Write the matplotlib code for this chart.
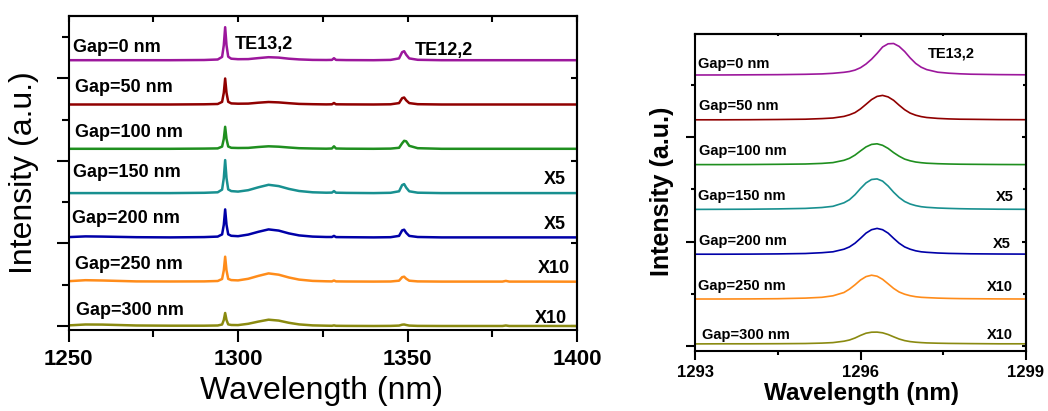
import numpy as np
import matplotlib
matplotlib.use("Agg")
import matplotlib.pyplot as plt

plt.rcParams['font.family'] = ['Liberation Sans', 'DejaVu Sans']

# ---- data ----
gaps = ['Gap=0 nm', 'Gap=50 nm', 'Gap=100 nm', 'Gap=150 nm', 'Gap=200 nm', 'Gap=250 nm', 'Gap=300 nm']
colors = ['#9C179C', '#900000', '#1F8F1F', '#189090', '#0000A8', '#FF8C1A', '#8A8A10']
scales = ['', '', '', 'X5', 'X5', 'X10', 'X10']

# left panel: broad spectrum (a.u.)
wl_full = [1250, 1255, 1260, 1270, 1280, 1290, 1294, 1295.3, 1295.8, 1296.2, 1296.6, 1297.1,
           1298, 1300, 1303, 1306, 1309, 1312, 1315, 1318, 1322, 1326, 1327.7, 1328.3,
           1328.9, 1332, 1340, 1345, 1347.5, 1348.4, 1349.0, 1349.6, 1350.5, 1353, 1360,
           1370, 1378, 1379, 1380, 1390, 1400]
full_gap0 = [0, 0, 0, 0, 0, 0.2, 0.7, 3.3, 15, 33, 15, 3.5, 1.5, 1.0, 1.1, 2.1, 3.0, 2.6, 1.5,
             0.8, 0.3, 0.2, 0.3, 2.0, 0.3, 0.1, 0, 0.3, 1.8, 8, 9, 5.5, 1.8, 0.4, 0, 0, 0, 0, 0, 0, 0]
full_gap50 = [0, 0, 0, 0, 0, 0.2, 0.5, 2.6, 11.7, 26, 11.7, 2.7, 1.1, 0.8, 0.9, 1.8, 2.5, 2.1,
              1.3, 0.6, 0.3, 0.1, 0.2, 1.5, 0.2, 0.1, 0, 0.2, 1.4, 6.3, 7, 4.2, 1.4, 0.3, 0, 0,
              0, 0, 0, 0, 0]
full_gap100 = [0, 0, 0, 0, 0, 0.2, 0.4, 2.2, 9.9, 22, 9.9, 2.3, 1.0, 0.8, 0.9, 1.8, 2.5, 2.1,
               1.3, 0.6, 0.3, 0.1, 0.3, 2.5, 0.3, 0.1, 0, 0.2, 1.0, 5.5, 8, 7.5, 3, 0.6, 0, 0,
               0, 0, 0, 0, 0]
full_gap150 = [0, 0, 0, 0, 0, 0.3, 0.8, 3.5, 15, 33, 15, 3.7, 2.0, 1.5, 2.9, 5.8, 8.3, 7.0,
               4.2, 2.1, 0.8, 0.4, 0.5, 2.0, 0.4, 0.2, 0, 0.3, 1.8, 8, 9, 5.5, 1.8, 0.4, 0, 0,
               0, 0, 0, 0, 0]
full_gap200 = [0.3, 1.0, 0.8, 0.2, 0, 0.3, 0.8, 3.0, 12.6, 28, 12.6, 3.1, 1.6, 1.2, 2.8, 5.6,
               8, 6.8, 4, 2, 0.8, 0.4, 0.4, 1.5, 0.3, 0.2, 0, 0.2, 1.5, 7, 7.7, 4.6, 1.5, 0.4,
               0, 0, 0, 0, 0, 0, 0]
full_gap250 = [0.5, 1.5, 1.2, 0.3, 0.2, 0.3, 0.7, 2.7, 11.3, 25, 11.3, 2.8, 1.6, 1.3, 2.9, 5.8,
               8.3, 7.0, 4.2, 2.1, 0.8, 0.4, 0.3, 1.2, 0.3, 0.2, 0.1, 0.2, 1.0, 4.5, 5, 3, 1.0,
               0.3, 0.1, 0.1, 0.1, 0.8, 0.1, 0.1, 0]
full_gap300 = [0.6, 1.5, 1.4, 0.5, 0.3, 0.3, 0.5, 1.5, 6, 13, 6, 1.6, 1.0, 0.9, 2.2, 4.4, 6.3,
               5.4, 3.2, 1.6, 0.6, 0.3, 0.2, 0.6, 0.2, 0.1, 0, 0.1, 0.4, 1.3, 1.5, 1.0, 0.4,
               0.1, 0, 0, 0, 0.5, 0, 0, 0]

# right panel: zoom on TE13,2 (a.u.)
wl_zoom = [1293.0, 1293.5, 1294.0, 1294.5, 1295.0, 1295.3, 1295.5, 1295.7, 1295.8, 1295.9,
           1296.0, 1296.1, 1296.2, 1296.3, 1296.4, 1296.5, 1296.6, 1296.7, 1296.8, 1296.9,
           1297.0, 1297.1, 1297.2, 1297.4, 1297.6, 1297.8, 1298.0, 1298.5, 1299.0]
zoom_gap0 = [0.2, 0.25, 0.4, 0.55, 0.9, 1.3, 1.9, 2.9, 3.7, 5.1, 7.5, 11.2, 16.0, 21.8, 28.2,
             31.4, 31.7, 28.8, 23.7, 17.3, 11.8, 8.0, 5.6, 3.0, 2.0, 1.4, 1.0, 0.6, 0.4]
zoom_gap50 = [0.2, 0.2, 0.3, 0.5, 0.8, 1.4, 2.0, 3.6, 5.2, 7.4, 11.1, 15.7, 20.4, 23.6, 24.6,
              23.1, 19.7, 14.8, 10.3, 6.9, 4.8, 3.4, 2.5, 1.6, 1.1, 0.8, 0.7, 0.4, 0.3]
zoom_gap100 = [0.2, 0.2, 0.3, 0.5, 0.8, 1.4, 2.2, 4.5, 6.5, 9.7, 13.9, 17.9, 20.4, 21.0, 19.5,
               16.4, 12.2, 8.6, 5.7, 4.0, 2.8, 2.1, 1.6, 1.1, 0.8, 0.6, 0.5, 0.3, 0.2]
zoom_gap150 = [0.2, 0.3, 0.4, 0.7, 1.2, 2.1, 3.3, 6.8, 9.9, 14.9, 21.1, 26.7, 30.1, 30.7, 28.5,
               23.6, 17.4, 12.1, 8.1, 5.6, 4.0, 2.9, 2.3, 1.6, 1.2, 0.9, 0.7, 0.4, 0.3]
zoom_gap200 = [0.2, 0.2, 0.3, 0.5, 0.9, 1.7, 2.6, 5.2, 7.5, 11.2, 16.1, 21.3, 24.7, 26.0, 24.7,
               21.3, 16.1, 11.2, 7.5, 5.2, 3.6, 2.6, 2.1, 1.4, 1.0, 0.8, 0.6, 0.4, 0.3]
zoom_gap250 = [0.2, 0.2, 0.3, 0.5, 1.1, 1.9, 3.4, 6.7, 10.1, 14.4, 19.2, 22.6, 24.0, 23.0, 19.9,
               15.4, 10.8, 7.2, 5.0, 3.5, 2.5, 1.9, 1.6, 1.1, 0.8, 0.6, 0.5, 0.3, 0.2]
zoom_gap300 = [0.1, 0.2, 0.2, 0.3, 0.5, 0.9, 1.4, 2.8, 4.0, 6.0, 8.6, 10.8, 11.8, 11.9, 11.2,
               9.5, 7.2, 5.0, 3.4, 2.4, 1.8, 1.4, 1.1, 0.8, 0.6, 0.5, 0.4, 0.2, 0.2]

full = [full_gap0, full_gap50, full_gap100, full_gap150, full_gap200, full_gap250, full_gap300]
zoom = [zoom_gap0, zoom_gap50, zoom_gap100, zoom_gap150, zoom_gap200, zoom_gap250, zoom_gap300]

fig = plt.figure(figsize=(10.48, 4.11), dpi=100)
ax = fig.add_axes([0.0654, 0.1971, 0.4852, 0.7647])
ax2 = fig.add_axes([0.6632, 0.1467, 0.3158, 0.7713])

# ---- left panel ----
step = 44.3
for i in range(7):
    off = step * (6 - i)
    ax.plot(wl_full, np.array(full[i]) + off, color=colors[i], lw=1.8)

ax.set_xlim(1250, 1400)
ax.set_ylim(-4, 310.3)
ax.set_xticks([1250, 1300, 1350, 1400])
ax.set_xticks([1275, 1325, 1375], minor=True)
ax.set_yticks([0, 82.5, 165, 247.5])
ax.set_yticks([41.25, 123.75, 206.25, 288.75], minor=True)
ax.set_yticklabels([])
ax.tick_params(which='major', direction='out', length=8.5, width=1.5, labelsize=16, pad=5)
ax.tick_params(which='minor', direction='out', length=5, width=1.5)
for lab in ax.get_xticklabels():
    lab.set_fontweight('bold')
for s in ax.spines.values():
    s.set_linewidth(1.5)

top = ax.secondary_xaxis('top')
top.set_xticks([1250, 1300, 1350, 1400])
top.set_xticks([1275, 1325, 1375], minor=True)
top.tick_params(which='both', direction='in', length=4.5, width=1.5, labeltop=False)
top.spines['top'].set_linewidth(1.5)
rgt = ax.secondary_yaxis('right')
rgt.set_yticks([0, 82.5, 165, 247.5])
rgt.set_yticks([], minor=True)
rgt.tick_params(which='both', direction='in', length=4.5, width=1.5, labelright=False)
rgt.spines['right'].set_linewidth(1.5)

ax.set_xlabel('Wavelength (nm)', fontsize=23)
ax.xaxis.set_label_coords(0.4975, -0.145)
ax.set_ylabel('Intensity (a.u.)', fontsize=23)
ax.yaxis.set_label_coords(-0.058, 0.5)

left_lab = [(1251.2, 274), (1251.9, 234.3), (1251.9, 189.3), (1251.2, 149.3),
            (1250.9, 102.7), (1251.9, 57), (1252.1, 11)]
for (x, y), g in zip(left_lab, gaps):
    ax.text(x, y, g, fontsize=13, fontweight='bold', ha='left', va='baseline')
ax.text(1299.1, 276.7, 'TE13,2', fontsize=13, fontweight='bold', va='baseline')
ax.text(1352.2, 271, 'TE12,2', fontsize=13, fontweight='bold', va='baseline')
left_x = [(1396.8, 142), (1396.8, 96.7), (1397.9, 53.3), (1396.9, 3.3)]
for (x, y), s in zip(left_x, scales[3:]):
    ax.text(x, y, s, fontsize=13, fontweight='bold', ha='right', va='baseline')

# ---- right panel ----
step2 = 44.8
for i in range(7):
    off = step2 * (6 - i)
    ax2.plot(wl_zoom, np.array(zoom[i]) + off, color=colors[i], lw=1.2)

ax2.set_xlim(1293, 1299)
ax2.set_ylim(-6.7, 310.3)
ax2.set_xticks([1293, 1296, 1299])
ax2.set_xticks([1294.5, 1297.5], minor=True)
ax2.set_yticks([-2, 102.5, 207])
ax2.set_yticks([50.25, 154.75, 259.25], minor=True)
ax2.set_yticklabels([])
ax2.tick_params(which='major', direction='out', length=6.5, width=1.5, labelsize=12, pad=4)
ax2.tick_params(which='minor', direction='out', length=3.2, width=1.5)
for lab in ax2.get_xticklabels():
    lab.set_fontweight('bold')
for s in ax2.spines.values():
    s.set_linewidth(1.5)

top2 = ax2.secondary_xaxis('top')
top2.set_xticks([1293, 1296, 1299])
top2.set_xticks([1294.5, 1297.5], minor=True)
top2.tick_params(which='major', direction='in', length=2.5, width=1.5, labeltop=False)
top2.tick_params(which='minor', direction='in', length=1.6, width=1.5)
top2.spines['top'].set_linewidth(1.5)
rgt2 = ax2.secondary_yaxis('right')
rgt2.set_yticks([-2, 102.5, 207])
rgt2.set_yticks([50.25, 154.75, 259.25], minor=True)
rgt2.tick_params(which='major', direction='in', length=3, width=1.5, labelright=False)
rgt2.tick_params(which='minor', direction='in', length=2.2, width=1.5)
rgt2.spines['right'].set_linewidth(1.5)

ax2.set_xlabel('Wavelength (nm)', fontsize=17.5, fontweight='bold')
ax2.xaxis.set_label_coords(0.5015, -0.1)
ax2.set_ylabel('Intensity (a.u.)', fontsize=18, fontweight='bold')
ax2.yaxis.set_label_coords(-0.065, 0.503)

right_lab = [(1293.06, 276.3), (1293.08, 234), (1293.07, 189), (1293.06, 144),
             (1293.07, 99), (1293.06, 54), (1293.12, 4.7)]
for (x, y), g in zip(right_lab, gaps):
    ax2.text(x, y, g, fontsize=10.5, fontweight='bold', ha='left', va='baseline')
ax2.text(1297.23, 286.3, 'TE13,2', fontsize=10.5, fontweight='bold', va='baseline')
right_x = [(1298.77, 143.3), (1298.73, 95.7), (1298.77, 53.3), (1298.76, 5)]
for (x, y), s in zip(right_x, scales[3:]):
    ax2.text(x, y, s, fontsize=10.5, fontweight='bold', ha='right', va='baseline')

fig.savefig('out.png', dpi=100)
